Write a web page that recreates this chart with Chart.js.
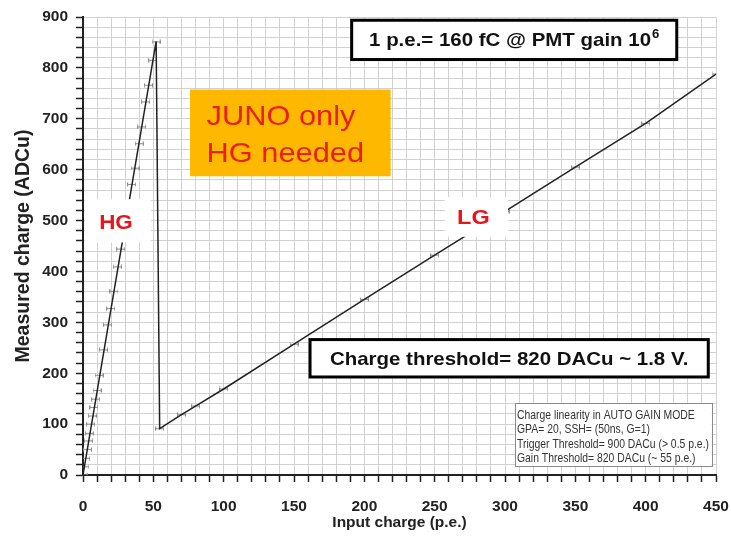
<!DOCTYPE html>
<html>
<head>
  <title>Charge linearity in auto gain mode</title>
  <script src="https://cdn.jsdelivr.net/npm/chart.js"></script>
  <style>
    html, body { margin: 0; padding: 0; background: #fff; }
    #wrap { width: 731px; height: 542px; }
  </style>
</head>
<body>
  <div id="wrap"><canvas id="linChart" width="731" height="542"></canvas></div>

  <script>
    // High gain measurements (input p.e. / measured ADCu)
    const hgCharge = [0, 1.4, 1.9, 3.1, 3.8, 4.5, 5.4, 6.6, 7.8, 9, 10, 11.4, 14.5, 17.5, 19.7, 22,
                      24.4, 26.8, 34.6, 37, 40, 41.7, 44.5, 46.5, 49.6, 51.9];
    const hgAdc = [0, 16, 33, 50, 67, 82, 100, 116, 133, 149, 166, 196, 246, 295, 327, 361,
                   409, 444, 571, 603, 651, 684, 733, 766, 815, 851];

    // Low gain measurements after the gain switch
    const lgCharge = [54.5, 70, 80, 100, 150, 200, 250, 300, 350, 400, 450];
    const lgAdc = [91, 118.5, 135.5, 169, 257, 345, 432, 518, 605, 691, 788];

    // HG trend line up to the switching point
    const fitCharge = [0, 52];
    const fitAdc = [0, 852];

    const xTickLabels = [0, 50, 100, 150, 200, 250, 300, 350, 400, 450];
    const yTickLabels = [0, 100, 200, 300, 400, 500, 600, 700, 800, 900];

    const arial = "'Liberation Sans', Arial, sans-serif";

    const toPts = (xs, ys) => xs.map((v, i) => ({x: v, y: ys[i]}));
    const linePts = toPts(fitCharge, fitAdc).concat(toPts(lgCharge, lgAdc));
    const markPts = toPts(hgCharge, hgAdc).concat(toPts(lgCharge, lgAdc));

    // small horizontal error bar used as point marker
    const errBar = document.createElement('canvas');
    errBar.width = 9; errBar.height = 5;
    (function () {
      const c = errBar.getContext('2d');
      c.strokeStyle = '#8c8c8c';
      c.lineWidth = 1;
      c.beginPath();
      c.moveTo(0, 2.5); c.lineTo(9, 2.5);
      c.moveTo(0.5, 0.5); c.lineTo(0.5, 4.5);
      c.moveTo(8.5, 0.5); c.lineTo(8.5, 4.5);
      c.stroke();
    })();

    function stretched(ctx, str, x, y, font, color, sx, align) {
      ctx.save();
      ctx.translate(x, y);
      ctx.scale(sx, 1);
      ctx.font = font;
      ctx.fillStyle = color;
      ctx.textAlign = align || 'left';
      ctx.textBaseline = 'alphabetic';
      ctx.fillText(str, 0, 0);
      ctx.restore();
    }

    // text boxes on top of the data
    const notes = {
      id: 'notes',
      afterDatasetsDraw(chart) {
        const {ctx, scales: {x, y}} = chart;
        const box = (x0, y0, x1, y1) => {
          const l = x.getPixelForValue(x0), t = y.getPixelForValue(y0);
          const r = x.getPixelForValue(x1), b = y.getPixelForValue(y1);
          return {l, t, r, b, w: r - l, h: b - t, cx: (l + r) / 2, cy: (t + b) / 2};
        };
        ctx.save();

        // HG / LG labels on white patches
        let b = box(1.4, 542, 48.3, 457);
        ctx.fillStyle = '#fff';
        ctx.fillRect(b.l, b.t, b.w, b.h);
        stretched(ctx, 'HG', b.cx - 2, b.t + 29.5, 'bold 20px ' + arial, '#e8141c', 1.12, 'center');

        b = box(257.3, 546, 302.1, 468);
        ctx.fillStyle = '#fff';
        ctx.fillRect(b.l, b.t, b.w, b.h);
        stretched(ctx, 'LG', b.cx - 3, b.t + 26.5, 'bold 21px ' + arial, '#e8141c', 1.12, 'center');

        // orange note
        b = box(76.1, 757.5, 218.7, 587);
        ctx.fillStyle = '#ffb800';
        ctx.fillRect(b.l, b.t, b.w, b.h);
        stretched(ctx, 'JUNO only', b.l + 16.5, b.t + 35.7, '28px ' + arial, '#e8201c', 1.1);
        stretched(ctx, 'HG needed', b.l + 16.5, b.t + 72.4, '28px ' + arial, '#e8201c', 1.1);

        // charge unit box
        b = box(191, 893.6, 422.1, 816.4);
        ctx.fillStyle = '#fff';
        ctx.fillRect(b.l, b.t, b.w, b.h);
        ctx.strokeStyle = '#000';
        ctx.lineWidth = 3;
        ctx.strokeRect(b.l, b.t, b.w, b.h);
        const mainTxt = '1 p.e.= 160 fC @ PMT gain 10';
        const f1 = 'bold 18.6px ' + arial, fSup = 'bold 12px ' + arial;
        ctx.font = f1;
        const w1 = ctx.measureText(mainTxt).width * 1.1;
        ctx.font = fSup;
        const w2 = ctx.measureText('6').width * 1.1;
        const x0 = b.cx - (w1 + w2 + 1) / 2;
        stretched(ctx, mainTxt, x0, b.cy + 6, f1, '#111', 1.1);
        stretched(ctx, '6', x0 + w1 + 1, b.cy - 1.5, fSup, '#111', 1.1);

        // threshold box
        b = box(161.4, 266.1, 444.5, 192.6);
        ctx.fillStyle = '#fff';
        ctx.fillRect(b.l, b.t, b.w, b.h);
        ctx.strokeRect(b.l, b.t, b.w, b.h);
        stretched(ctx, 'Charge threshold= 820 DACu ~ 1.8 V.', b.cx, b.cy + 7, f1, '#111', 1.1, 'center');

        // run settings
        b = box(307.1, 141.5, 446.9, 17.1);
        ctx.fillStyle = '#fff';
        ctx.fillRect(b.l, b.t, b.w, b.h);
        ctx.strokeStyle = '#8a8a8a';
        ctx.lineWidth = 1;
        ctx.strokeRect(Math.round(b.l) + 0.5, Math.round(b.t) + 0.5, Math.round(b.w), Math.round(b.h));
        const settings = [
          'Charge linearity in AUTO GAIN MODE',
          'GPA= 20, SSH= (50ns, G=1)',
          'Trigger Threshold= 900 DACu (> 0.5 p.e.)',
          'Gain Threshold= 820 DACu (~ 55 p.e.)'
        ];
        settings.forEach((s, i) => {
          stretched(ctx, s, b.l + 2, b.t + 15.6 + i * 14.5, '13.5px ' + arial, '#333', 0.77);
        });

        ctx.restore();
      }
    };

    const ctx = document.getElementById('linChart').getContext('2d');
    new Chart(ctx, {
      type: 'scatter',
      data: {
        datasets: [{
          type: 'line',
          data: linePts,
          borderColor: '#222',
          borderWidth: 1.5,
          pointRadius: 0,
          tension: 0,
          fill: false
        }, {
          data: markPts,
          pointStyle: errBar,
          pointRadius: 4,
          showLine: false
        }]
      },
      options: {
        responsive: false,
        animation: false,
        events: [],
        layout: { padding: { left: 0, right: 15, top: 17, bottom: 0 } },
        plugins: {
          legend: { display: false },
          tooltip: { enabled: false }
        },
        scales: {
          x: {
            type: 'linear',
            min: 0,
            max: 450,
            afterFit: s => { s.height = 67; s.paddingLeft = 0; s.paddingRight = 0; },
            ticks: {
              stepSize: 10,
              autoSkip: false,
              maxRotation: 0,
              padding: 15,
              color: '#222',
              font: { family: arial, size: 15.5, weight: 'bold' },
              callback: v => xTickLabels.includes(v) ? String(v) : ''
            },
            grid: { color: '#d2d2d2', tickColor: '#222', tickLength: 7, tickWidth: 1.5 },
            border: { color: '#222', width: 2 },
            title: {
              display: true,
              text: 'Input charge (p.e.)',
              color: '#222',
              font: { family: arial, size: 15.5, weight: 'bold' },
              padding: { top: 0, bottom: 10 }
            }
          },
          y: {
            min: 0,
            max: 900,
            afterFit: s => { s.width = 83; s.paddingTop = 0; s.paddingBottom = 0; },
            ticks: {
              stepSize: 20,
              autoSkip: false,
              padding: 8,
              color: '#222',
              font: { family: arial, size: 15.5, weight: 'bold' },
              callback: v => yTickLabels.includes(v) ? String(v) : ''
            },
            grid: { color: '#d2d2d2', tickColor: '#222', tickLength: 7, tickWidth: 1.5 },
            border: { color: '#222', width: 2 },
            title: {
              display: true,
              text: 'Measured charge (ADCu)',
              color: '#222',
              font: { family: arial, size: 19.5, weight: 'bold' },
              padding: { top: 12, bottom: 0 }
            }
          }
        }
      },
      plugins: [notes]
    });
  </script>
</body>
</html>
